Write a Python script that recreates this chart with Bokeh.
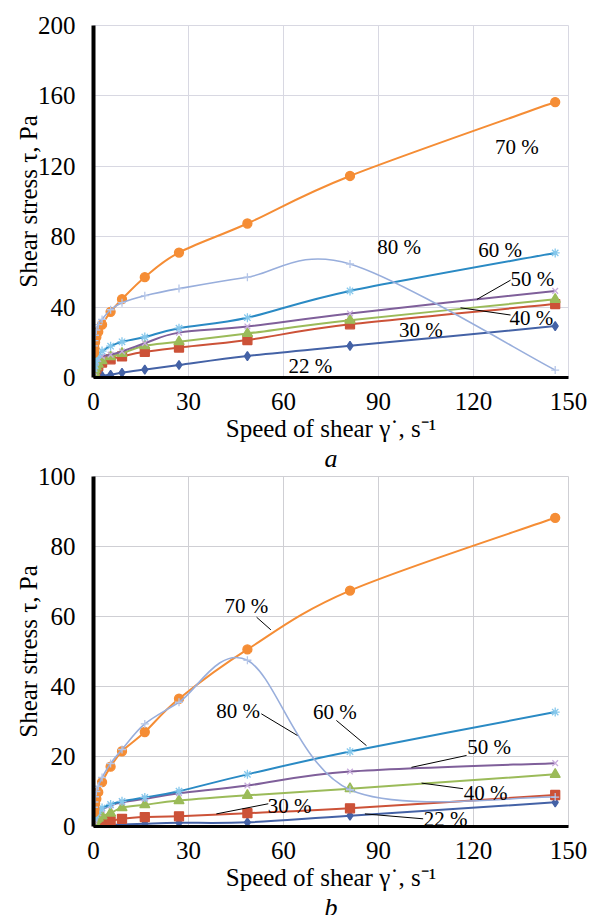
from bokeh.plotting import figure
from bokeh.layouts import column
from bokeh.models import Range1d, FixedTicker, Title, ColumnDataSource
from bokeh.embed import file_html
from bokeh.resources import INLINE
from bokeh.core.properties import value

# ---------------- data ----------------
shear_rate = [0.17, 0.3, 0.5, 0.9, 1.5, 2.7, 5.4, 9.0, 16.2, 27.0, 48.6, 81.0, 145.8]

a_22 = [0.2, 0.3, 0.4, 0.6, 0.8, 1.0, 1.5, 2.7, 4.5, 7.1, 12.2, 18.0, 29.2]
a_30 = [1.5, 2.5, 3.5, 5.0, 6.5, 8.5, 10.3, 12.0, 14.6, 17.0, 21.3, 30.2, 41.7]
a_40 = [2.0, 3.0, 4.5, 6.0, 7.5, 9.5, 11.8, 13.7, 18.0, 20.3, 25.0, 32.5, 44.4]
a_50 = [3.0, 5.0, 7.0, 9.0, 10.5, 12.0, 13.0, 14.8, 19.5, 25.5, 29.0, 36.4, 49.2]
a_60 = [5.0, 7.0, 9.0, 11.0, 13.0, 15.0, 17.8, 20.3, 23.0, 28.0, 34.0, 49.2, 70.8]
a_70 = [14.0, 16.5, 20.0, 23.0, 26.0, 30.0, 37.3, 44.5, 57.0, 71.0, 87.5, 114.5, 156.5]
a_80 = [18.0, 21.0, 24.0, 27.0, 30.0, 33.0, 38.5, 42.5, 46.5, 50.5, 57.0, 64.5, 4.2]

b_22 = [0.2, 0.2, 0.3, 0.3, 0.4, 0.4, 0.5, 0.6, 0.8, 1.05, 1.2, 3.1, 6.9]
b_30 = [0.5, 0.7, 0.9, 1.0, 1.2, 1.3, 1.5, 2.2, 2.7, 2.9, 3.8, 5.2, 9.0]
b_40 = [1.0, 1.3, 1.6, 2.0, 2.4, 3.0, 3.8, 5.4, 6.2, 7.4, 8.9, 10.8, 14.9]
b_50 = [1.5, 2.0, 2.6, 3.2, 3.8, 4.8, 6.0, 6.9, 7.9, 9.5, 11.7, 15.7, 18.1]
b_60 = [2.5, 3.0, 3.5, 4.0, 4.5, 5.3, 6.3, 7.2, 8.3, 10.1, 14.9, 21.4, 32.7]
b_70 = [4.1, 5.0, 6.5, 7.9, 9.8, 12.7, 17.1, 21.5, 27.0, 36.5, 50.6, 67.4, 88.2]
b_80 = [5.5, 7.0, 8.5, 10.0, 11.5, 14.0, 18.0, 22.0, 29.3, 35.5, 47.5, 10.5, 8.4]

x_ticks = [0, 30, 60, 90, 120, 150]
a_y_ticks = [0, 40, 80, 120, 160, 200]
b_y_ticks = [0, 20, 40, 60, 80, 100]

series_names = ["22 %", "30 %", "40 %", "50 %", "60 %", "70 %", "80 %"]

# ---------------- styles ----------------
FONT = "Liberation Serif"
styles = {
    "22 %": dict(color="#4462A6", marker="diamond", size=9, mfill="#4462A6", mline="#4462A6", width=2),
    "30 %": dict(color="#CC5238", marker="square", size=9, mfill="#CC5238", mline="#CC5238", width=2),
    "40 %": dict(color="#9BBB59", marker="triangle", size=10, mfill="#9BBB59", mline="#9BBB59", width=2),
    "50 %": dict(color="#7F5F9A", marker="x", size=8, mfill=None, mline="#C7ABDB", width=2),
    "60 %": dict(color="#2A8AC4", marker="asterisk", size=9, mfill=None, mline="#86C8EC", width=2),
    "70 %": dict(color="#F58D35", marker="circle", size=9, mfill="#F58D35", mline="#F58D35", width=2),
    "80 %": dict(color="#98AEDC", marker="cross", size=8, mfill=None, mline="#B5C6E8", width=1.6),
}

# label positions (data coords) and leader lines
a_labels = [("70 %", 133.7, 131), ("80 %", 96.5, 74.2), ("60 %", 128.4, 72.3),
            ("50 %", 138.6, 56), ("40 %", 138.3, 34), ("30 %", 103.4, 27.2), ("22 %", 68.5, 6.8)]
a_leaders = [(131.7, 55.3, 121.1, 44.4), (131.7, 35.5, 115.9, 39.6)]

b_labels = [("70 %", 48.3, 62.9), ("80 %", 45.7, 33.1), ("60 %", 76.2, 32.7),
            ("50 %", 124.9, 22.6), ("40 %", 123.8, 9.7), ("30 %", 61.9, 6.0), ("22 %", 111.2, 2.05)]
b_leaders = [(51.5, 59.8, 56.0, 56.2), (53.0, 32.2, 64.4, 26.0), (76.7, 30.3, 86.2, 23.1),
             (117.8, 20.3, 100.4, 16.9), (116.7, 10.8, 103.6, 12.4), (55.2, 6.5, 38.8, 3.6),
             (104.1, 2.2, 85.7, 3.6)]


def excel_smooth(xs, ys):
    n = len(xs)
    d = dict(x0=[], y0=[], x1=[], y1=[], cx0=[], cy0=[], cx1=[], cy1=[])
    for i in range(n - 1):
        ip = max(i - 1, 0)
        inx = min(i + 2, n - 1)
        d["x0"].append(xs[i]); d["y0"].append(ys[i])
        d["x1"].append(xs[i + 1]); d["y1"].append(ys[i + 1])
        d["cx0"].append(xs[i] + (xs[i + 1] - xs[ip]) / 6.0)
        d["cy0"].append(ys[i] + (ys[i + 1] - ys[ip]) / 6.0)
        d["cx1"].append(xs[i + 1] - (xs[inx] - xs[i]) / 6.0)
        d["cy1"].append(ys[i + 1] - (ys[inx] - ys[i]) / 6.0)
    return d


def make_panel(letter, ymax, yticks, data, labels, leaders, grid_color,
               frame_h, top_border, bottom_border):
    p = figure(frame_width=475, frame_height=frame_h,
               x_range=Range1d(0, 150), y_range=Range1d(0, ymax),
               output_backend="svg", toolbar_location=None,
               min_border_left=93, min_border_right=21,
               min_border_top=top_border, min_border_bottom=bottom_border,
               background_fill_color="white", border_fill_color="white")
    p.outline_line_color = grid_color
    p.outline_line_width = 1
    p.xaxis.ticker = FixedTicker(ticks=x_ticks)
    p.yaxis.ticker = FixedTicker(ticks=yticks)
    for ax in (p.xaxis[0], p.yaxis[0]):
        ax.major_tick_line_color = None
        ax.minor_tick_line_color = None
        ax.axis_line_color = "black"
        ax.major_label_text_font = FONT
        ax.major_label_text_font_size = "25px"
        ax.major_label_text_color = "black"
        ax.axis_label_text_font = FONT
        ax.axis_label_text_font_size = "25px"
        ax.axis_label_text_font_style = "normal"
        ax.axis_label_text_color = "black"
    p.yaxis.axis_line_width = 4
    p.xaxis.axis_line_width = 3
    p.yaxis.major_label_standoff = 12
    p.xaxis.major_label_standoff = 9
    p.yaxis.axis_label = "Shear stress τ, Pa"
    p.xaxis.axis_label = "Speed of shear γ˙, s⁻¹"
    try:
        p.yaxis[0].axis_label_standoff = -7
    except Exception:
        p.yaxis[0].axis_label_standoff = 0
    p.xaxis.axis_label_standoff = 2
    p.xgrid.grid_line_color = grid_color
    p.ygrid.grid_line_color = grid_color
    p.xgrid.grid_line_width = 1
    p.ygrid.grid_line_width = 1

    for name in series_names:
        st = styles[name]
        ys = data[name]
        p.bezier(source=ColumnDataSource(excel_smooth(shear_rate, ys)),
                 x0="x0", y0="y0", x1="x1", y1="y1", cx0="cx0", cy0="cy0", cx1="cx1", cy1="cy1",
                 line_color=st["color"], line_width=st["width"])
        p.scatter(shear_rate, ys, marker=st["marker"], size=st["size"],
                  fill_color=st["mfill"], line_color=st["mline"], line_width=1.3)

    p.segment(x0=[l[0] for l in leaders], y0=[l[1] for l in leaders],
              x1=[l[2] for l in leaders], y1=[l[3] for l in leaders],
              line_color="black", line_width=1)
    p.text(x=[l[1] for l in labels], y=[l[2] for l in labels], text=[l[0] for l in labels],
           text_font=value(FONT), text_font_size="21px", text_color="black",
           text_align="center", text_baseline="middle")

    t = Title(text=letter, align="center", text_font=FONT, text_font_size="26px",
              text_font_style="italic", text_color="black", standoff=0)
    try:
        t.standoff = -6
    except Exception:
        pass
    p.add_layout(t, "below")
    return p


data_a = {"22 %": a_22, "30 %": a_30, "40 %": a_40, "50 %": a_50, "60 %": a_60, "70 %": a_70, "80 %": a_80}
data_b = {"22 %": b_22, "30 %": b_30, "40 %": b_40, "50 %": b_50, "60 %": b_60, "70 %": b_70, "80 %": b_80}

pa = make_panel("a", 200, a_y_ticks, data_a, a_labels, a_leaders, "#D8D8E2", 352, 25, 98)
pb = make_panel("b", 100, b_y_ticks, data_b, b_labels, b_leaders, "#CFCFD4", 350, 12, 0)
pb.border_fill_alpha = 0
pb.margin = (-11, 0, 0, 0)

layout = column(pa, pb, spacing=0)
open("out.html", "w").write(file_html(layout, INLINE))
